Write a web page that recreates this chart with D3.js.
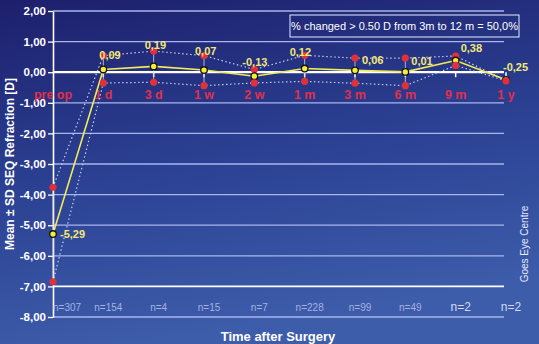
<!DOCTYPE html>
<html>
<head>
<meta charset="utf-8">
<script src="https://cdn.jsdelivr.net/npm/d3@7"></script>
<style>
  html, body { margin: 0; padding: 0; background: #26357f; }
  svg { display: block; font-family: "Liberation Sans", Arial, sans-serif; }
</style>
</head>
<body>
<div id="chart"></div>
<script>
// data
var categories = ["pre op", "1 d", "3 d", "1 w", "2 w", "1 m", "3 m", "6 m", "9 m", "1 y"];
var meanValues = [-5.29, 0.09, 0.19, 0.07, -0.13, 0.12, 0.06, 0.01, 0.38, -0.25];
var upperValues = [-3.76, 0.54, 0.69, 0.54, 0.09, 0.55, 0.46, 0.46, 0.53, -0.28];
var lowerValues = [-6.85, -0.35, -0.33, -0.44, -0.35, -0.30, -0.36, -0.44, 0.22, -0.28];
var nCounts = [307, 154, 4, 15, 7, 228, 99, 49, 2, 2];
var yTicks = [2, 1, 0, -1, -2, -3, -4, -5, -6, -7, -8];

// label nudges (layout only)
var labelDx = [7, -4, -9, -9, -12, -15, 7, 6, 5, -3];
var labelDy = [0, -14, -21, -19, -14, -16, -10, -11, -12, -13];

var width = 539, height = 344;

var svg = d3.select("#chart").append("svg")
    .attr("width", width)
    .attr("height", height);

var defs = svg.append("defs");
var grad = defs.append("linearGradient")
    .attr("id", "bg").attr("x1", 0).attr("y1", 0).attr("x2", 0.25).attr("y2", 1);
grad.append("stop").attr("offset", "0%").attr("stop-color", "#1d1f6c");
grad.append("stop").attr("offset", "55%").attr("stop-color", "#2c4294");
grad.append("stop").attr("offset", "100%").attr("stop-color", "#3d5caa");
svg.append("rect").attr("width", width).attr("height", height).attr("fill", "url(#bg)");

var x = d3.scalePoint(categories, [53, 506]);
var y = d3.scaleLinear([-8, 2], [317, 11]);
var fmt = function(v) { return d3.format(".2f")(v).replace("\u2212", "-").replace(".", ","); };

// gridlines
svg.append("g").selectAll("line")
    .data(yTicks)
    .join("line")
    .attr("x1", 53).attr("x2", 504)
    .attr("y1", d => y(d)).attr("y2", d => y(d))
    .attr("stroke", d => (d === 0 || d === -7) ? "#ffffff" : "#a9b6ee")
    .attr("stroke-width", d => d === 0 ? 2.2 : (d === -7 ? 1.6 : 1.3));

// y axis
var yAxis = svg.append("g").attr("transform", "translate(53,0)")
    .call(d3.axisLeft(y).tickValues(yTicks).tickFormat(fmt).tickSize(5).tickSizeOuter(0));
yAxis.select(".domain").attr("stroke", "#ffffff").attr("stroke-width", 1.6);
yAxis.selectAll(".tick line").attr("stroke", "#ffffff").attr("stroke-width", 1.3);
yAxis.selectAll(".tick text")
    .attr("fill", "#ffffff")
    .attr("font-size", "11.5px")
    .attr("font-weight", "bold")
    .attr("font-family", "Liberation Sans, Arial, sans-serif")
    .attr("x", -7);

// small ticks under the zero line
svg.append("g").selectAll("line")
    .data(categories.slice(1))
    .join("line")
    .attr("x1", d => x(d)).attr("x2", d => x(d))
    .attr("y1", y(0)).attr("y2", y(0) + 5)
    .attr("stroke", "#ffffff").attr("stroke-width", 1.5);

// category labels
svg.append("g").selectAll("text")
    .data(categories)
    .join("text")
    .attr("x", d => x(d))
    .attr("y", 99)
    .attr("text-anchor", "middle")
    .attr("fill", "#e0304a")
    .attr("font-size", "12.5px")
    .attr("font-weight", "bold")
    .text(d => d);

// whiskers
svg.append("g").selectAll("line")
    .data(categories)
    .join("line")
    .attr("x1", d => x(d)).attr("x2", d => x(d))
    .attr("y1", (d, i) => y(upperValues[i]))
    .attr("y2", (d, i) => y(lowerValues[i]))
    .attr("stroke", "#d8cde6").attr("stroke-width", 1)
    .attr("opacity", 0.8);

// SD dotted lines
var line = d3.line().x((d, i) => x(categories[i])).y(d => y(d));
[upperValues, lowerValues].forEach(function(vals) {
    svg.append("path")
        .datum(vals)
        .attr("d", line)
        .attr("fill", "none")
        .attr("stroke", "#c4cdf0")
        .attr("stroke-width", 1.2)
        .attr("stroke-dasharray", "1.5,2.5");
});

// upper SD markers
svg.append("g").selectAll("circle")
    .data(upperValues)
    .join("circle")
    .attr("cx", (d, i) => x(categories[i]))
    .attr("cy", d => y(d))
    .attr("r", 3.6)
    .attr("fill", "#e0303c");

// mean line
svg.append("path")
    .datum(meanValues)
    .attr("d", line)
    .attr("fill", "none")
    .attr("stroke", "#f2ea5a")
    .attr("stroke-width", 1.6);

// mean markers
svg.append("g").selectAll("circle")
    .data(meanValues)
    .join("circle")
    .attr("cx", (d, i) => x(categories[i]))
    .attr("cy", d => y(d))
    .attr("r", 3.3)
    .attr("fill", "#f4ec3c")
    .attr("stroke", "#111111")
    .attr("stroke-width", 1.3);

// lower SD markers
svg.append("g").selectAll("circle")
    .data(lowerValues)
    .join("circle")
    .attr("cx", (d, i) => x(categories[i]))
    .attr("cy", d => y(d))
    .attr("r", 3.6)
    .attr("fill", "#e0303c");

// value labels
svg.append("g").selectAll("text")
    .data(meanValues)
    .join("text")
    .attr("x", (d, i) => x(categories[i]) + labelDx[i])
    .attr("y", (d, i) => y(d) + labelDy[i])
    .attr("dy", "0.35em")
    .attr("fill", "#f2e878")
    .attr("font-size", "11px")
    .attr("font-weight", "bold")
    .text(d => fmt(d));

// n labels
svg.append("g").selectAll("text")
    .data(nCounts)
    .join("text")
    .attr("x", (d, i) => x(categories[i]) + (i === 0 ? 0 : 5))
    .attr("y", 307)
    .attr("dy", "0.35em")
    .attr("text-anchor", (d, i) => i === 0 ? "start" : "middle")
    .attr("fill", (d, i) => i >= 8 ? "#d2daf4" : "#a4b2e2")
    .attr("font-size", (d, i) => i >= 8 ? "12px" : "10px")
    .text(d => "n=" + d);

// info box
var box = svg.append("g");
box.append("rect")
    .attr("x", 290).attr("y", 15).attr("width", 229).attr("height", 22)
    .attr("fill", "none").attr("stroke", "#e8ecff").attr("stroke-width", 1);
box.append("text")
    .attr("x", 404.5).attr("y", 26).attr("dy", "0.35em")
    .attr("text-anchor", "middle")
    .attr("fill", "#ffffff")
    .attr("font-size", "11px")
    .text("% changed > 0.50 D from 3m to 12 m = 50,0%");

// axis titles
svg.append("text")
    .attr("transform", "translate(10,164) rotate(-90)")
    .attr("dy", "0.35em")
    .attr("text-anchor", "middle")
    .attr("fill", "#ffffff")
    .attr("font-size", "12px")
    .attr("font-weight", "bold")
    .text("Mean \u00b1 SD SEQ Refraction [D]");

svg.append("text")
    .attr("x", 278).attr("y", 336).attr("dy", "0.35em")
    .attr("text-anchor", "middle")
    .attr("fill", "#ffffff")
    .attr("font-size", "13px")
    .attr("font-weight", "bold")
    .text("Time after Surgery");

svg.append("text")
    .attr("transform", "translate(524,244) rotate(-90)")
    .attr("dy", "0.35em")
    .attr("text-anchor", "middle")
    .attr("fill", "#e6ebff")
    .attr("font-size", "10px")
    .text("Goes Eye Centre");
</script>
</body>
</html>
